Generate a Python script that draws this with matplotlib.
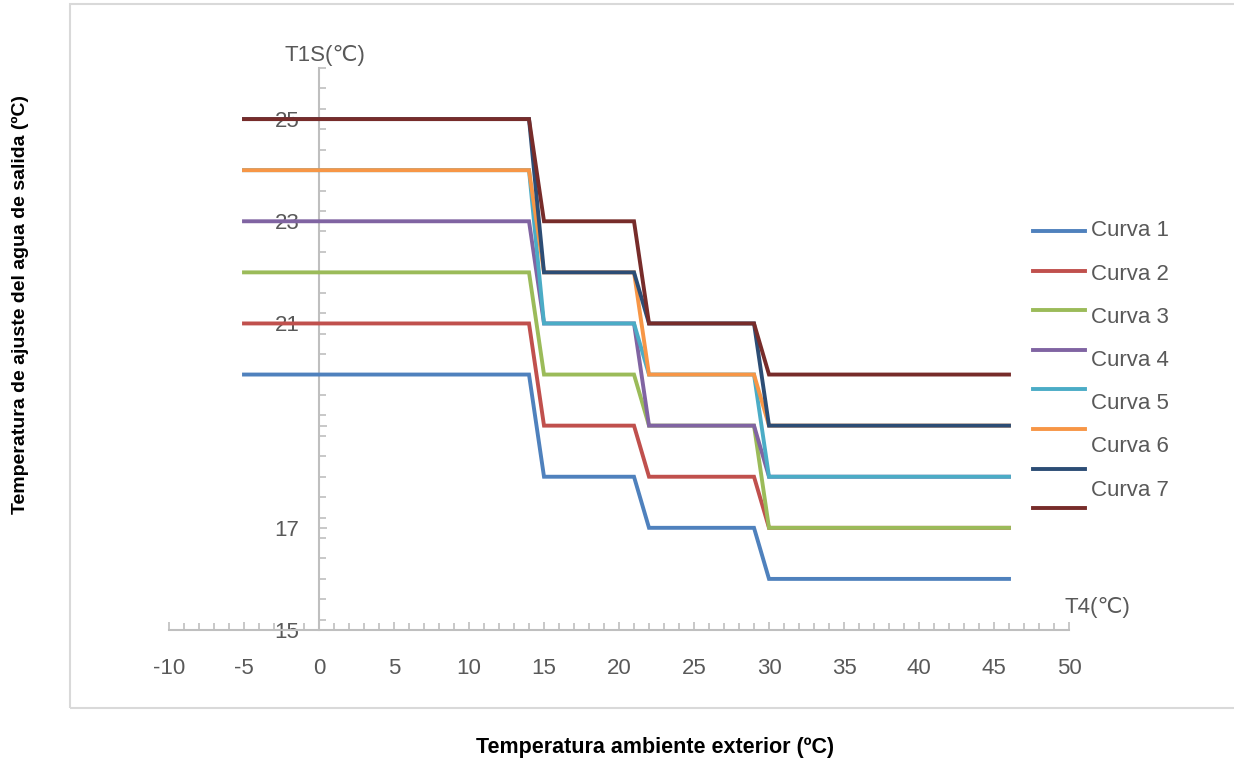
import matplotlib.pyplot as plt
from matplotlib.lines import Line2D
from matplotlib.patches import Rectangle
from matplotlib.ticker import MultipleLocator, FixedLocator, FixedFormatter

plt.rcParams['font.family'] = ['Liberation Sans', 'DejaVu Sans']
plt.rcParams['axes.unicode_minus'] = False

# temperatura exterior T4 (puntos de quiebre de las curvas)
t4 = [-5, 14, 15, 21, 22, 29, 30, 46]

# niveles de T1S por tramo: (<=14, 15-21, 22-29, >=30)
curva1 = [20, 18, 17, 16]
curva2 = [21, 19, 18, 17]
curva3 = [22, 20, 19, 17]
curva4 = [23, 21, 19, 18]
curva5 = [24, 21, 20, 18]
curva6 = [24, 22, 20, 19]
curva7 = [25, 22, 21, 19]
curva8 = [25, 23, 21, 20]

series = [curva1, curva2, curva3, curva4, curva5, curva6, curva7, curva8]
colores = ['#4F81BD', '#C0504D', '#9BBB59', '#8064A2',
           '#4BACC6', '#F79646', '#2C4D75', '#772C2A']
etiquetas = ['Curva 1', 'Curva 2', 'Curva 3', 'Curva 4',
             'Curva 5', 'Curva 6', 'Curva 7']

y_ticks = [15, 17, 19, 21, 23, 25]
y_labels = ['15', '17', '', '21', '23', '25']
x_ticks = [-10, -5, 0, 5, 10, 15, 20, 25, 30, 35, 40, 45, 50]

gris = '#595959'
eje = '#BFBFBF'

W, H = 1234, 765
fig = plt.figure(figsize=(W / 100, H / 100), dpi=100)

# marco del grafico
fig.patches.append(Rectangle((70 / W, 1 - 708 / H), 1.2, 704 / H,
                             transform=fig.transFigure, fill=False,
                             edgecolor='#D9D9D9', linewidth=1.5))

ax = fig.add_axes([169 / W, 1 - 630 / H, 900 / W, 562 / H])
ax.set_xlim(-10, 50)
ax.set_ylim(15, 26)

for vals, c in zip(series, colores):
    # cada nivel se repite en los dos extremos de su tramo
    ys = [v for v in vals for _ in range(2)]
    ax.plot(t4, ys, color=c, linewidth=2.8, zorder=3,
            solid_joinstyle='miter', clip_on=False)

for s in ['top', 'right']:
    ax.spines[s].set_visible(False)
ax.spines['left'].set_position(('data', 0))
ax.spines['left'].set_color(eje)
ax.spines['bottom'].set_color(eje)
ax.spines['left'].set_linewidth(1.5)
ax.spines['bottom'].set_linewidth(1.5)

ax.xaxis.set_major_locator(FixedLocator(x_ticks))
ax.xaxis.set_minor_locator(MultipleLocator(1))
ax.yaxis.set_major_locator(FixedLocator(y_ticks))
ax.yaxis.set_major_formatter(FixedFormatter(y_labels))
ax.yaxis.set_minor_locator(MultipleLocator(0.4))

ax.tick_params(axis='both', which='both', direction='in', color=eje,
               width=1.2, labelcolor=gris, labelsize=16)
ax.tick_params(axis='both', which='major', length=6)
ax.tick_params(axis='both', which='minor', length=5)
ax.tick_params(axis='x', which='major', pad=20)
ax.tick_params(axis='y', which='major', pad=14)
for lbl in ax.get_yticklabels():
    lbl.set_zorder(1)

ax.text(0.4, 26.25, 'T1S(℃)', ha='center', va='center', fontsize=16,
        color=gris, clip_on=False)
ax.text(51.9, 15.45, 'T4(℃)', ha='center', va='center', fontsize=16,
        color=gris, clip_on=False)

# leyenda dibujada a mano (lineas y textos desalineados como en el original)
for i, c in enumerate(colores):
    yl = 1 - (231 + i * 39.6) / H
    fig.add_artist(Line2D([1033 / W, 1085 / W], [yl, yl], color=c,
                          linewidth=2.8, transform=fig.transFigure))
for i, t in enumerate(etiquetas):
    yt = 1 - (231 + i * 43.2) / H
    fig.text(1091 / W, yt, t, ha='left', va='center', fontsize=16, color=gris)

fig.text(20 / W, 1 - 305 / H, 'Temperatura de ajuste del agua de salida (ºC)',
         rotation=90, ha='center', va='center', fontsize=14,
         fontweight='bold', color='black')
fig.text(655 / W, 1 - 748 / H, 'Temperatura ambiente exterior (ºC)',
         ha='center', va='center', fontsize=15.5, fontweight='bold',
         color='black')

fig.savefig('out.png', dpi=100)
